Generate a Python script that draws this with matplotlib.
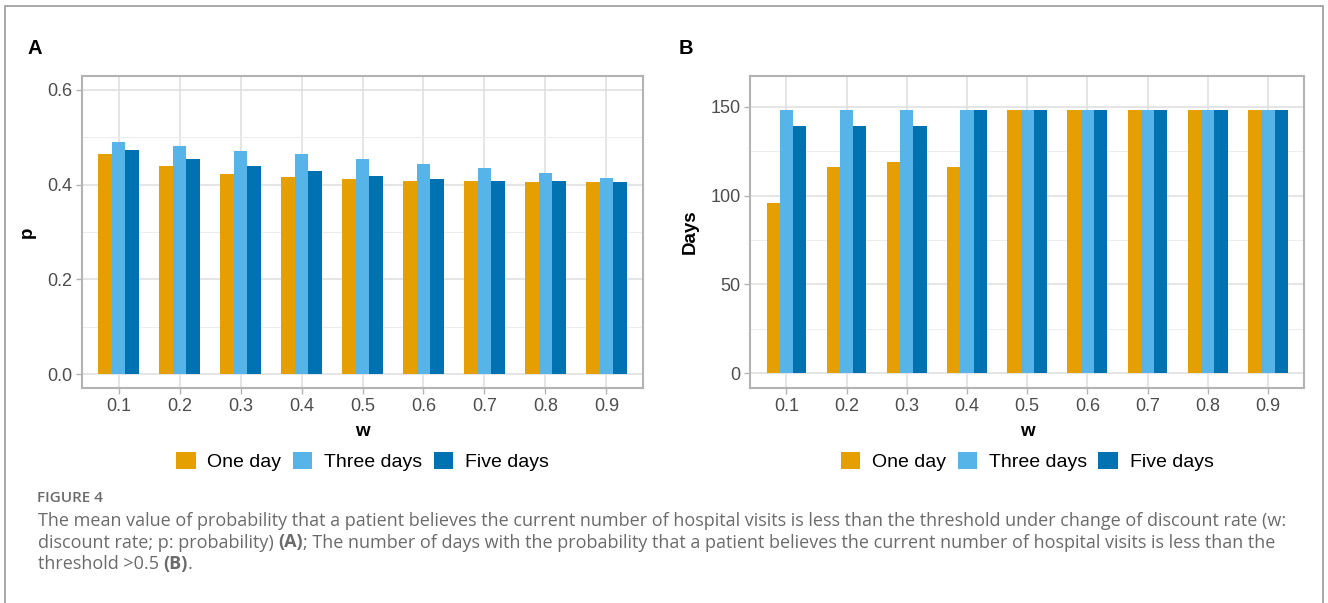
import numpy as np
import matplotlib
matplotlib.use('Agg')
import matplotlib.pyplot as plt
from matplotlib import font_manager
from matplotlib.patches import Patch, Rectangle

# data
w_labels = ['0.1', '0.2', '0.3', '0.4', '0.5', '0.6', '0.7', '0.8', '0.9']
series = ['One day', 'Three days', 'Five days']
colors = ['#E69F00', '#56B4E9', '#0072B2']

p_one = [0.464, 0.440, 0.423, 0.416, 0.411, 0.408, 0.408, 0.406, 0.406]
p_three = [0.491, 0.481, 0.471, 0.464, 0.455, 0.444, 0.435, 0.425, 0.415]
p_five = [0.474, 0.455, 0.440, 0.428, 0.418, 0.413, 0.408, 0.408, 0.406]

days_one = [96, 116, 119, 116, 148, 148, 148, 148, 148]
days_three = [148, 148, 148, 148, 148, 148, 148, 148, 148]
days_five = [139, 139, 139, 148, 148, 148, 148, 148, 148]

names = {f.name for f in font_manager.fontManager.ttflist}
narrow = 'Liberation Sans Narrow' if 'Liberation Sans Narrow' in names else 'Liberation Sans'
plt.rcParams['font.family'] = [narrow, 'DejaVu Sans']

W, H = 1328, 603
fig = plt.figure(figsize=(W / 100, H / 100), dpi=100)

# outer border of the figure box
fig.patches.append(Rectangle((4.5 / W, -0.05), (1323 - 4.5) / W, 1 - 5.7 / H + 0.05,
                             transform=fig.transFigure, fill=False,
                             edgecolor='#9a9a9a', linewidth=1.2))


def panel(rect, values, ylim, major, minor, ylabel, tag, tag_x):
    ax = fig.add_axes(rect)
    x = np.arange(1, len(w_labels) + 1)
    bw = 0.22
    for i, (vals, c) in enumerate(zip(values, colors)):
        ax.bar(x + (i - 1) * bw, vals, width=bw, color=c, linewidth=0, zorder=3)
    ax.set_xlim(0.4, 9.6)
    ax.set_ylim(*ylim)
    ax.set_xticks(x)
    ax.set_xticklabels(w_labels)
    ax.set_yticks(major)
    ax.set_yticks(minor, minor=True)
    ax.grid(True, which='major', color='#dedede', linewidth=1.1, zorder=0)
    ax.grid(True, which='minor', axis='y', color='#ececec', linewidth=0.7, zorder=0)
    ax.tick_params(which='minor', length=0)
    ax.tick_params(which='major', length=4, width=1, color='#b3b3b3',
                   labelcolor='#4d4d4d', labelsize=13, pad=3)
    for s in ax.spines.values():
        s.set_color('#b3b3b3')
        s.set_linewidth(1.5)
    ax.set_xlabel('w', fontsize=13.5, fontweight='bold', labelpad=6)
    ax.set_ylabel(ylabel, fontsize=13.5, fontweight='bold', labelpad=8)
    handles = [Patch(facecolor=c, edgecolor='none', label=s) for c, s in zip(colors, series)]
    cx = rect[0] + rect[2] / 2
    fig.legend(handles=handles, loc='center', bbox_to_anchor=(cx, 1 - 461.7 / H),
               ncol=3, frameon=False, fontsize=14, handlelength=1.0, handleheight=1.0,
               handletextpad=0.6, columnspacing=0.6)
    fig.text(tag_x / W, 1 - 48 / H, tag, fontsize=14.5, fontweight='bold',
             family='Liberation Sans', va='center', ha='left')
    return ax


bottom = 1 - 388 / H
height = (388 - 75.7) / H
panel([82 / W, bottom, (643 - 82) / W, height],
      [p_one, p_three, p_five], (-0.029, 0.630),
      [0.0, 0.2, 0.4, 0.6], [0.1, 0.3, 0.5], 'p', 'A', 27)
axb = panel([750.3 / W, bottom, (1304 - 750.3) / W, height],
            [days_one, days_three, days_five], (-8.2, 167.4),
            [0, 50, 100, 150], [25, 75, 125], 'Days', 'B', 679)
axb.set_yticklabels(['0', '50', '100', '150'])

# caption
cap_font = 'Open Sans'
grey = '#6b6b6b'
fig.text(37 / W, 1 - 498 / H, 'FIGURE 4', fontsize=11, color=grey,
         family=cap_font, fontweight='semibold', va='center', ha='left')

lines = [
    [('The mean value of probability that a patient believes the current number of hospital visits '
      'is less than the threshold under change of discount rate (w:', 'normal')],
    [('discount rate; p: probability) ', 'normal'), ('(A)', 'bold'),
     ('; The number of days with the probability that a patient believes the current number of '
      'hospital visits is less than the', 'normal')],
    [('threshold >0.5 ', 'normal'), ('(B)', 'bold'), ('.', 'normal')],
]
line_y = [521, 542.5, 564]
fig.canvas.draw()
renderer = fig.canvas.get_renderer()
for segs, yy in zip(lines, line_y):
    xpix = 38.0
    for txt, wt in segs:
        t = fig.text(xpix / W, 1 - yy / H, txt, fontsize=12.95, color=grey,
                     family=cap_font, fontweight=wt, va='center', ha='left')
        ext = t.get_window_extent(renderer=renderer)
        xpix += ext.width

fig.savefig('out.png', dpi=100)
